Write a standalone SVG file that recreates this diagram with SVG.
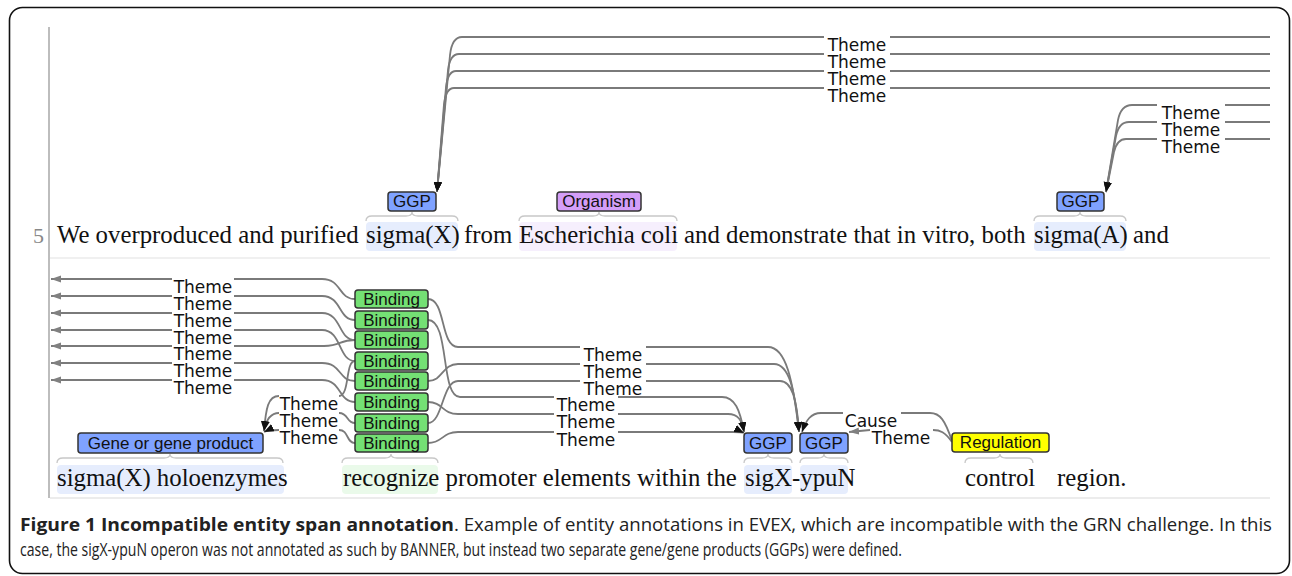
<svg xmlns="http://www.w3.org/2000/svg" width="1292" height="576" viewBox="0 0 1292 576">
<style>
.frame{fill:#fff;stroke:#111;stroke-width:1.6}
.arc{fill:none;stroke:#7a7a7a;stroke-width:1.8}
.brace{fill:none;stroke:#c8c8c8;stroke-width:1.3}
.lbl{font-family:"DejaVu Sans",sans-serif;font-size:17px;fill:#111;text-anchor:middle}
.box{stroke:#333;stroke-width:1.5}
.btxt{font-family:"Liberation Sans",Arial,sans-serif;font-size:17px;fill:#111;text-anchor:middle}
.sent{font-family:"Liberation Serif","Times New Roman",serif;font-size:24.8px;fill:#111}
.ggp{fill:#7fa2ff}
.org{fill:#d49ef8}
.bind{fill:#74e074}
.reg{fill:#ffff00}
.hggp{fill:#e6edfd}
.horg{fill:#f6effd}
.hbind{fill:#eafaea}
.cap{font-family:"Liberation Sans Narrow","Open Sans","Liberation Sans",sans-serif;font-size:17.5px;fill:#222}
</style>
<defs>
<marker id="ab" markerUnits="userSpaceOnUse" markerWidth="11" markerHeight="9" refX="10" refY="4" orient="auto"><path d="M0,0 L10,4 L0,8 z" fill="#111"/></marker>
<marker id="ag" markerUnits="userSpaceOnUse" markerWidth="11" markerHeight="9" refX="10" refY="4" orient="auto"><path d="M0,0.5 L10,4 L0,7.5 z" fill="#808080"/></marker>
</defs>
<rect class="frame" x="9.5" y="7.5" width="1280" height="566" rx="13"/>
<g id="rows">
<line x1="49" y1="27" x2="49" y2="498" stroke="#bdbdbd" stroke-width="2"/>
<line x1="50" y1="258" x2="1270" y2="258" stroke="#f0f0f0" stroke-width="2"/>
<line x1="50" y1="498" x2="1270" y2="498" stroke="#e6e6e6" stroke-width="1.5"/>
<text x="33" y="243" font-family="Liberation Serif,serif" font-size="22" fill="#888">5</text>
</g>
<g id="highlights">
<rect class="hggp" x="366" y="222" width="92" height="29" rx="4"/>
<rect class="horg" x="519" y="222" width="158" height="29" rx="4"/>
<rect class="hggp" x="1034" y="222" width="92" height="29" rx="4"/>
<rect class="hggp" x="57" y="465" width="227" height="29" rx="4"/>
<rect class="hbind" x="342" y="465" width="96" height="29" rx="4"/>
<rect class="hggp" x="744" y="465" width="48" height="29" rx="4"/>
<rect class="hggp" x="800" y="465" width="48" height="29" rx="4"/>
</g>
<g id="braces">
<path class="brace" d="M366,221 Q366,216 372,216 L406,216 Q412,216 412,212 Q412,216 418,216 L452,216 Q458,216 458,221"/>
<path class="brace" d="M519,221 Q519,216 525,216 L593,216 Q599,216 599,212 Q599,216 605,216 L671,216 Q677,216 677,221"/>
<path class="brace" d="M1034,221 Q1034,216 1040,216 L1074,216 Q1080,216 1080,212 Q1080,216 1086,216 L1120,216 Q1126,216 1126,221"/>
<path class="brace" d="M57,463 Q57,458 63,458 L164,458 Q170,458 170,454 Q170,458 176,458 L277,458 Q283,458 283,463"/>
<path class="brace" d="M342,463 Q342,458 348,458 L385,458 Q391,458 391,454 Q391,458 397,458 L432,458 Q438,458 438,463"/>
<path class="brace" d="M744,463 Q744,458 750,458 L762,458 Q768,458 768,454 Q768,458 774,458 L786,458 Q792,458 792,463"/>
<path class="brace" d="M800,463 Q800,458 806,458 L818,458 Q824,458 824,454 Q824,458 830,458 L842,458 Q848,458 848,463"/>
<path class="brace" d="M965,463 Q965,458 971,458 L994,458 Q1000,458 1000,454 Q1000,458 1006,458 L1027,458 Q1033,458 1033,463"/>
</g>
<g id="sentences">
<text class="sent" x="57" y="243">We overproduced and purified</text>
<text class="sent" x="366" y="243">sigma(X)</text>
<text class="sent" x="464" y="243">from</text>
<text class="sent" x="519" y="243">Escherichia coli</text>
<text class="sent" x="684" y="243">and demonstrate that in vitro, both</text>
<text class="sent" x="1034" y="243">sigma(A)</text>
<text class="sent" x="1133" y="243">and</text>
<text class="sent" x="57" y="486">sigma(X) holoenzymes</text>
<text class="sent" x="343" y="486">recognize promoter elements within the</text>
<text class="sent" x="745" y="486">sigX</text>
<text class="sent" x="792" y="486">-ypuN</text>
<text class="sent" x="965" y="486">control</text>
<text class="sent" x="1057" y="486">region.</text>
</g>
<g id="connectors">
<path class="arc" d="M824,37 H462 Q452,37 450,55 L437,192" marker-end="url(#ab)"/>
<path class="arc" d="M824,54 H459 Q450,54 448,70 L437,192" marker-end="url(#ab)"/>
<path class="arc" d="M824,71 H456 Q448,71 446,87 L437,192" marker-end="url(#ab)"/>
<path class="arc" d="M824,88 H454 Q446,88 444,104 L437,192" marker-end="url(#ab)"/>
<path class="arc" d="M890,37 H1270 M890,54 H1270 M890,71 H1270 M890,88 H1270"/>
<path class="arc" d="M1157,105 H1132 Q1121,105 1118,120 L1106,192" marker-end="url(#ab)"/>
<path class="arc" d="M1157,122 H1129 Q1119,122 1116,136 L1106,192" marker-end="url(#ab)"/>
<path class="arc" d="M1157,139 H1126 Q1117,139 1114,152 L1106,192" marker-end="url(#ab)"/>
<path class="arc" d="M1225,105 H1270 M1225,122 H1270 M1225,139 H1270"/>
<path class="arc" d="M172,279 H51" marker-end="url(#ag)"/>
<path class="arc" d="M172,296 H51" marker-end="url(#ag)"/>
<path class="arc" d="M172,313 H51" marker-end="url(#ag)"/>
<path class="arc" d="M172,330 H51" marker-end="url(#ag)"/>
<path class="arc" d="M172,346 H51" marker-end="url(#ag)"/>
<path class="arc" d="M172,363 H51" marker-end="url(#ag)"/>
<path class="arc" d="M172,380 H51" marker-end="url(#ag)"/>
<path class="arc" d="M234,279 H322 C342,279 338,299 355,299"/>
<path class="arc" d="M234,296 H322 C342,296 338,320 355,320"/>
<path class="arc" d="M234,313 H322 C342,313 338,340 355,340"/>
<path class="arc" d="M234,330 H322 C342,330 338,361 355,361"/>
<path class="arc" d="M234,346 H324 C342,346 338,340 355,340"/>
<path class="arc" d="M234,363 H322 C342,363 338,381 355,381"/>
<path class="arc" d="M234,380 H322 C342,380 338,402 355,402"/>
<path class="arc" d="M279,396 C268,396 266,408 264,431" marker-end="url(#ab)"/>
<path class="arc" d="M279,413 C270,413 266,420 264,431" marker-end="url(#ab)"/>
<path class="arc" d="M279,430 C272,430 268,430 264,432" marker-end="url(#ab)"/>
<path class="arc" d="M339,396 C350,396 345,361 355,361"/>
<path class="arc" d="M339,413 C349,413 346,423 355,423"/>
<path class="arc" d="M339,430 C349,430 346,443 355,443"/>
<path class="arc" d="M428,299 C446,299 440,347 458,347 H580"/>
<path class="arc" d="M428,381 C443,381 442,364 458,364 H580"/>
<path class="arc" d="M428,423 C443,423 442,381 458,381 H580"/>
<path class="arc" d="M646,347 H768 C786,347 793,380 799,432" marker-end="url(#ab)"/>
<path class="arc" d="M646,364 H774 C789,364 795,390 799,432" marker-end="url(#ab)"/>
<path class="arc" d="M646,381 H780 C792,381 797,400 799,432" marker-end="url(#ab)"/>
<path class="arc" d="M428,320 C450,320 440,397 460,397 H554"/>
<path class="arc" d="M428,402 C443,402 442,414 458,414 H554"/>
<path class="arc" d="M428,443 C443,443 442,432 458,432 H554"/>
<path class="arc" d="M618,397 H722 C735,397 740,410 744,432" marker-end="url(#ab)"/>
<path class="arc" d="M618,414 H728 C738,414 742,420 744,432" marker-end="url(#ab)"/>
<path class="arc" d="M618,432 H733 C739,432 742,432 744,433" marker-end="url(#ab)"/>
<path class="arc" d="M952,441 C945,420 940,413 930,413 H901"/>
<path class="arc" d="M843,413 H821 C811,413 806,420 802,432" marker-end="url(#ab)"/>
<path class="arc" d="M952,442 C945,432 940,430 933,430"/>
<path class="arc" d="M870,430 L849,432" marker-end="url(#ag)"/>
</g>
<g id="arc-labels">
<text class="lbl" x="857" y="51">Theme</text>
<text class="lbl" x="857" y="68">Theme</text>
<text class="lbl" x="857" y="85">Theme</text>
<text class="lbl" x="857" y="102">Theme</text>
<text class="lbl" x="1191" y="119">Theme</text>
<text class="lbl" x="1191" y="136">Theme</text>
<text class="lbl" x="1191" y="153">Theme</text>
<text class="lbl" x="203" y="293">Theme</text>
<text class="lbl" x="203" y="310">Theme</text>
<text class="lbl" x="203" y="327">Theme</text>
<text class="lbl" x="203" y="344">Theme</text>
<text class="lbl" x="203" y="360">Theme</text>
<text class="lbl" x="203" y="377">Theme</text>
<text class="lbl" x="203" y="394">Theme</text>
<text class="lbl" x="309" y="410">Theme</text>
<text class="lbl" x="309" y="427">Theme</text>
<text class="lbl" x="309" y="444">Theme</text>
<text class="lbl" x="613" y="361">Theme</text>
<text class="lbl" x="613" y="378">Theme</text>
<text class="lbl" x="613" y="395">Theme</text>
<text class="lbl" x="586" y="411">Theme</text>
<text class="lbl" x="586" y="428">Theme</text>
<text class="lbl" x="586" y="446">Theme</text>
<text class="lbl" x="871" y="427">Cause</text>
<text class="lbl" x="901" y="444">Theme</text>
</g>
<g id="ggp-sigmaX"><rect class="box ggp" x="388" y="192" width="48" height="19" rx="3"/><text class="btxt" x="412" y="207">GGP</text></g>
<g id="organism"><rect class="box org" x="557" y="192" width="84" height="19" rx="3"/><text class="btxt" x="599" y="207">Organism</text></g>
<g id="ggp-sigmaA"><rect class="box ggp" x="1057" y="192" width="47" height="19" rx="3"/><text class="btxt" x="1080.5" y="207">GGP</text></g>
<g id="gene-product"><rect class="box ggp" x="78" y="433" width="185" height="20" rx="3"/><text class="btxt" x="170.5" y="449">Gene or gene product</text></g>
<g id="binding1"><rect class="box bind" x="355" y="290" width="73" height="18" rx="3"/><text class="btxt" x="391.5" y="305">Binding</text></g>
<g id="binding2"><rect class="box bind" x="355" y="311" width="73" height="18" rx="3"/><text class="btxt" x="391.5" y="326">Binding</text></g>
<g id="binding3"><rect class="box bind" x="355" y="331" width="73" height="18" rx="3"/><text class="btxt" x="391.5" y="346">Binding</text></g>
<g id="binding4"><rect class="box bind" x="355" y="352" width="73" height="18" rx="3"/><text class="btxt" x="391.5" y="367">Binding</text></g>
<g id="binding5"><rect class="box bind" x="355" y="372" width="73" height="18" rx="3"/><text class="btxt" x="391.5" y="387">Binding</text></g>
<g id="binding6"><rect class="box bind" x="355" y="393" width="73" height="18" rx="3"/><text class="btxt" x="391.5" y="408">Binding</text></g>
<g id="binding7"><rect class="box bind" x="355" y="414" width="73" height="18" rx="3"/><text class="btxt" x="391.5" y="429">Binding</text></g>
<g id="binding8"><rect class="box bind" x="355" y="434" width="73" height="18" rx="3"/><text class="btxt" x="391.5" y="449">Binding</text></g>
<g id="ggp-sigX"><rect class="box ggp" x="744" y="433" width="48" height="20" rx="3"/><text class="btxt" x="768" y="449">GGP</text></g>
<g id="ggp-ypuN"><rect class="box ggp" x="800" y="433" width="48" height="20" rx="3"/><text class="btxt" x="824" y="449">GGP</text></g>
<g id="regulation"><rect class="box reg" x="952" y="433" width="97" height="19" rx="3"/><text class="btxt" x="1000.5" y="448">Regulation</text></g>
<g id="caption">
<text class="cap" x="20" y="531" font-weight="bold" textLength="434" lengthAdjust="spacingAndGlyphs">Figure 1 Incompatible entity span annotation</text>
<text class="cap" x="454" y="531" textLength="818" lengthAdjust="spacingAndGlyphs">. Example of entity annotations in EVEX, which are incompatible with the GRN challenge. In this</text>
<text class="cap" x="20" y="556" textLength="882" lengthAdjust="spacingAndGlyphs">case, the sigX-ypuN operon was not annotated as such by BANNER, but instead two separate gene/gene products (GGPs) were defined.</text>
</g>
</svg>
